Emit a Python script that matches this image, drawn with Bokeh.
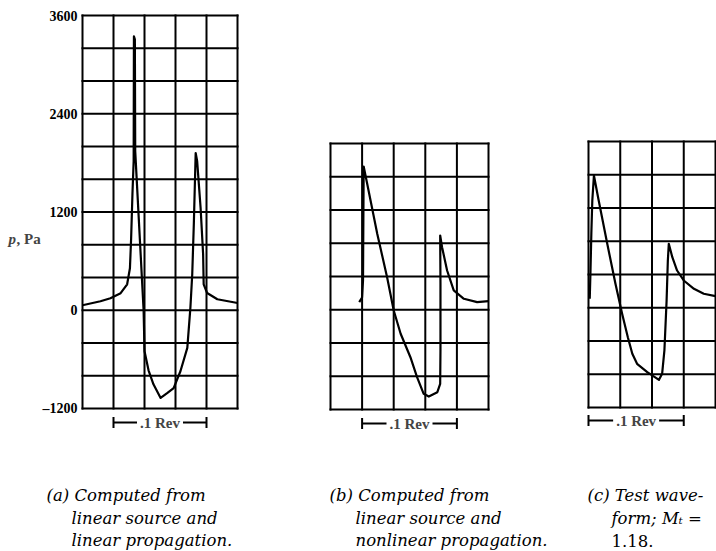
from bokeh.plotting import figure
from bokeh.layouts import row
from bokeh.models import (Range1d, Label, Whisker, TeeHead, ColumnDataSource)
from bokeh.core.properties import value
from bokeh.embed import file_html
from bokeh.resources import INLINE

# ---------------- data (x in revolutions, p in Pa) ----------------
rev_a = [0.0, 0.0193, 0.0300, 0.0410, 0.0480, 0.0510, 0.0523, 0.0537, 0.0550,
         0.0553, 0.0563, 0.0567, 0.0657, 0.0667, 0.0710, 0.0763, 0.0840, 0.0910,
         0.0980, 0.1053, 0.1127, 0.1160, 0.1180, 0.1197, 0.1217, 0.1233, 0.1270,
         0.1297, 0.1303, 0.1340, 0.1450, 0.1667]
p_a = [61, 110, 147, 208, 317, 513, 879, 1416, 1819,
       3345, 3309, 1941, 0, -500, -733, -904, -1071, -1013,
       -952, -745, -460, 28, 440, 1050, 1920, 1819, 1249,
       684, 317, 211, 134, 89]

rev_b = [0.0303, 0.0333, 0.0343, 0.0350, 0.0387, 0.0493, 0.0597, 0.0667,
         0.0740, 0.0843, 0.0913, 0.0983, 0.1037, 0.1127, 0.1157, 0.1160,
         0.1160, 0.1157, 0.1177, 0.1230, 0.1300, 0.1407, 0.1547, 0.1667]
p_b = [91, 147, 352, 1723, 1515, 914, 392, -9,
       -289, -571, -811, -1011, -1044, -992, -891, -490,
       316, 893, 752, 472, 232, 132, 91, 103]

rev_c = [0.0013, 0.0020, 0.0030, 0.0040, 0.0057, 0.0107, 0.0197, 0.0283,
         0.0353, 0.0413, 0.0460, 0.0510, 0.0617, 0.0740, 0.0773, 0.0797,
         0.0820, 0.0833, 0.0843, 0.0880, 0.0930, 0.1000, 0.1107, 0.1210, 0.1333]
p_c = [108, 400, 900, 1290, 1590, 1290, 769, 288,
       -73, -354, -554, -674, -775, -867, -795, -514,
       87, 568, 769, 608, 448, 328, 228, 168, 139]

y_ticks_a = [-1200, 0, 1200, 2400, 3600]
y_tick_labels_a = ["\u20131200", "0", "1200", "2400", "3600"]
y_label = ("p", ", Pa")
grid_rev = 0.1 / 3          # one grid division (3 divisions = .1 Rev)
grid_pa = 400
bar_label = ".1 Rev"

captions = {
    "a": ["(a) Computed from", "linear source and", "linear propagation."],
    "b": ["(b) Computed from", "linear source and", "nonlinear propagation."],
    "c": ["(c) Test wave-", "form; M\u209c =", "1.18."],
}

# ---------------- layout geometry (page pixels) ----------------
PAGE_H = 551
panels = {
    "a": dict(rev=rev_a, p=p_a, x1=5 * grid_rev, y0=-1200, y1=3600,
              gl=82, gt=15, gw=155, gh=393, c_left=0, c_right=300,
              bar=(1, 4, 422), cap_x=(46, 71)),
    "b": dict(rev=rev_b, p=p_b, x1=5 * grid_rev, y0=-1200, y1=2000,
              gl=330, gt=143, gw=158, gh=266, c_left=300, c_right=570,
              bar=(1, 4, 423), cap_x=(329, 355)),
    "c": dict(rev=rev_c, p=p_c, x1=4 * grid_rev, y0=-1200, y1=2000,
              gl=588, gt=141, gw=127, gh=266, c_left=570, c_right=716,
              bar=(0, 3, 420), cap_x=(587, 611)),
}
cap_y = [495, 518, 540]


def to_x(g, px):
    return (px - g["gl"]) * g["x1"] / g["gw"]


def to_y(g, py):
    return g["y0"] - (py - (g["gt"] + g["gh"])) * (g["y1"] - g["y0"]) / g["gh"]


figs = []
for key in ["a", "b", "c"]:
    g = panels[key]
    p = figure(width=g["c_right"] - g["c_left"], height=PAGE_H,
               min_border=0, min_border_left=0, min_border_right=0,
               min_border_top=0, min_border_bottom=0,
               x_range=Range1d(to_x(g, g["c_left"]), to_x(g, g["c_right"])),
               y_range=Range1d(to_y(g, PAGE_H), to_y(g, 0)),
               x_axis_location=None, y_axis_location=None,
               output_backend="svg", toolbar_location=None)
    p.outline_line_color = None
    p.background_fill_color = "white"
    p.border_fill_color = "white"
    p.grid.visible = False

    # chart grid (every division / every 400 Pa), frame included
    nx = int(round(g["x1"] / grid_rev))
    ny = int(round((g["y1"] - g["y0"]) / grid_pa))
    gx = [i * grid_rev for i in range(nx + 1)]
    gy = [g["y0"] + i * grid_pa for i in range(ny + 1)]
    p.segment(x0=gx, y0=[g["y0"]] * len(gx), x1=gx, y1=[g["y1"]] * len(gx),
              line_color="black", line_width=2, line_cap="square")
    p.segment(x0=[0] * len(gy), y0=gy, x1=[g["x1"]] * len(gy), y1=gy,
              line_color="black", line_width=2, line_cap="square")

    if key == "a":
        p.text(x=[to_x(g, 77)] * len(y_ticks_a), y=y_ticks_a, text=y_tick_labels_a,
               text_align="right", text_baseline="middle",
               text_font=value("Liberation Serif"), text_font_style="bold",
               text_font_size=value("14px"), text_color="black")
        p.add_layout(Label(x=to_x(g, 8), y=to_y(g, 238), text=y_label[0],
                           text_font="Liberation Serif", text_font_style="bold italic",
                           text_font_size="15px", text_baseline="middle",
                           text_align="left"))
        p.add_layout(Label(x=to_x(g, 16), y=to_y(g, 238), text=y_label[1],
                           text_font="Liberation Serif", text_font_style="bold",
                           text_font_size="15px", text_baseline="middle",
                           text_align="left"))

    p.line(g["rev"], g["p"], line_color="black", line_width=2.2,
           line_join="round")

    c0, c1, bpy = g["bar"]
    yb = to_y(g, bpy)
    src = ColumnDataSource(dict(base=[yb], lower=[c0 * grid_rev], upper=[c1 * grid_rev]))
    p.add_layout(Whisker(source=src, base="base", lower="lower", upper="upper",
                         dimension="width", line_color="black", line_width=1.8,
                         lower_head=TeeHead(size=11, line_width=2, line_color="black"),
                         upper_head=TeeHead(size=11, line_width=2, line_color="black")))
    p.add_layout(Label(x=(c0 + c1) / 2 * grid_rev, y=yb, text=bar_label,
                       text_align="center", text_baseline="middle",
                       text_font="Liberation Serif", text_font_style="bold",
                       text_font_size="15px", background_fill_color="white",
                       padding=3))

    for i, line in enumerate(captions[key]):
        cx = g["cap_x"][0] if i == 0 else g["cap_x"][1]
        style = "normal" if line == "1.18." else "italic"
        p.add_layout(Label(x=to_x(g, cx), y=to_y(g, cap_y[i]), text=line,
                           text_align="left", text_baseline="middle",
                           text_font="DejaVu Serif", text_font_style=style,
                           text_font_size="16.5px", text_color="black"))
    figs.append(p)

layout = row(*figs, spacing=0)
open("out.html", "w").write(file_html(layout, INLINE))
